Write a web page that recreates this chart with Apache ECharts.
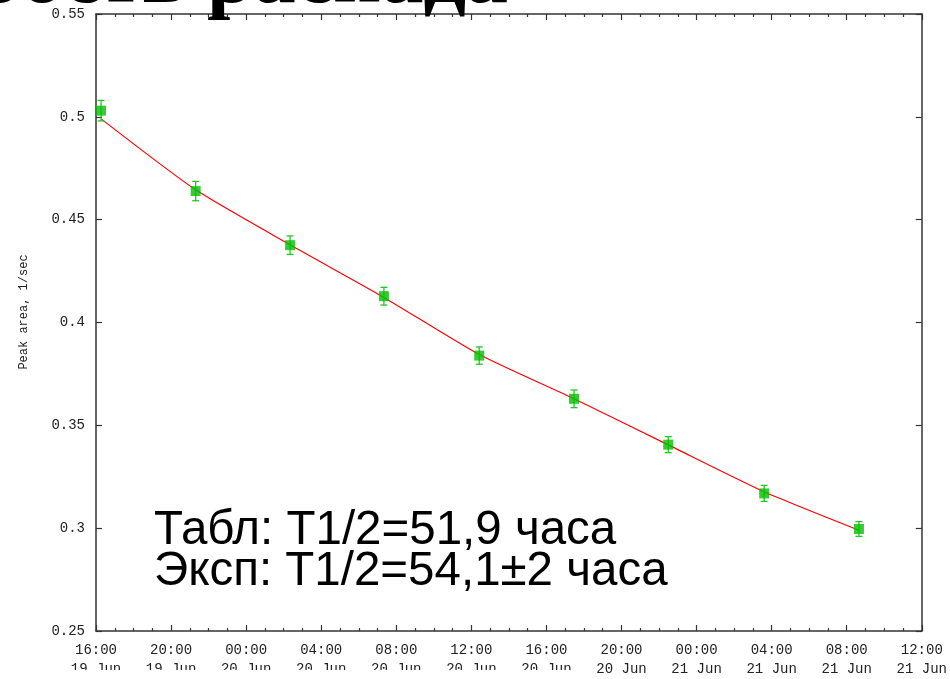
<!DOCTYPE html>
<html>
<head>
<meta charset="utf-8">
<script src="https://cdn.jsdelivr.net/npm/echarts@6/dist/echarts.min.js"></script>
<style>
html,body{margin:0;padding:0;background:#fff;}
#c{width:950px;height:679px;}
</style>
</head>
<body>
<div id="c"></div>
<script>
// hours since 16:00 19 Jun
const hours = [0.27, 5.31, 10.34, 15.34, 20.42, 25.47, 30.49, 35.6, 40.65];
const peakArea = [0.503, 0.4639, 0.4376, 0.4128, 0.3839, 0.3629, 0.3406, 0.3169, 0.2996];
const peakErr = [0.005, 0.0047, 0.0045, 0.0043, 0.0042, 0.0043, 0.0039, 0.0039, 0.0036];
const fitHours = [0.27, 5.31, 10.34, 15.34, 20.42, 25.47, 30.49, 35.6, 40.65];
const fitValues = [0.4990, 0.4645, 0.4378, 0.4122, 0.3844, 0.3629, 0.3405, 0.3177, 0.2990];
const xTickLabels = ['16:00\n19 Jun', '20:00\n19 Jun', '00:00\n20 Jun', '04:00\n20 Jun', '08:00\n20 Jun', '12:00\n20 Jun',
  '16:00\n20 Jun', '20:00\n20 Jun', '00:00\n21 Jun', '04:00\n21 Jun', '08:00\n21 Jun', '12:00\n21 Jun'];
const yAxisTitle = 'Peak area, 1/sec';
const titleText = 'Скорость распада';
const noteLine1 = 'Табл: T1/2=51,9 часа';
const noteLine2 = 'Эксп: T1/2=54,1±2 часа';

const mono = '"Liberation Mono", "DejaVu Sans Mono", monospace';
const axisColor = '#333';
const green = '#00c000';

const chart = echarts.init(document.getElementById('c'), null, {renderer: 'canvas'});

const points = hours.map((h, i) => [h, peakArea[i]]);
const errData = hours.map((h, i) => [h, peakArea[i] - peakErr[i], peakArea[i] + peakErr[i]]);
const fitData = fitHours.map((h, i) => [h, fitValues[i]]);

const baseX = {
  type: 'value', min: 0, max: 44, interval: 4,
  axisLine: {show: true, onZero: false, lineStyle: {color: axisColor, width: 1.5}},
  axisTick: {show: true, inside: true, length: 6, lineStyle: {color: axisColor, width: 1.2}},
  minorTick: {show: true, splitNumber: 4, length: 3, lineStyle: {color: axisColor, width: 1.2}},
  splitLine: {show: false}
};
const baseY = {
  type: 'value', min: 0.25, max: 0.55, interval: 0.05,
  axisLine: {show: true, onZero: false, lineStyle: {color: axisColor, width: 1.5}},
  axisTick: {show: true, inside: true, length: 6, lineStyle: {color: axisColor, width: 1.2}},
  splitLine: {show: false}
};

const option = {
  backgroundColor: '#fff',
  animation: false,
  grid: {left: 96, right: 28, top: 14, bottom: 46, containLabel: false},
  xAxis: [
    Object.assign({}, baseX, {
      position: 'bottom',
      axisLabel: {
        show: true, margin: 10, color: '#222', fontFamily: mono, fontSize: 14, lineHeight: 19,
        formatter: v => xTickLabels[Math.round(v / 4)] || ''
      }
    }),
    Object.assign({}, baseX, {position: 'top', axisLabel: {show: false}})
  ],
  yAxis: [
    Object.assign({}, baseY, {
      position: 'left',
      axisLabel: {show: true, margin: 11, color: '#222', fontFamily: mono, fontSize: 14,
        formatter: v => String(Math.round(v * 100) / 100)}
    }),
    Object.assign({}, baseY, {position: 'right', axisLabel: {show: false}})
  ],
  series: [
    {
      type: 'line', data: fitData, showSymbol: false, symbol: 'none', smooth: 0.2,
      lineStyle: {color: '#ff0000', width: 1.2}, z: 2, silent: true
    },
    {
      type: 'custom', data: errData, z: 3, silent: true,
      renderItem: (params, api) => {
        const x = api.value(0);
        const lo = api.coord([x, api.value(1)]);
        const hi = api.coord([x, api.value(2)]);
        const cap = 3.5;
        const style = {stroke: '#22c822', lineWidth: 1.3};
        return {
          type: 'group',
          children: [
            {type: 'line', shape: {x1: lo[0], y1: lo[1], x2: hi[0], y2: hi[1]}, style: style},
            {type: 'line', shape: {x1: lo[0] - cap, y1: lo[1], x2: lo[0] + cap, y2: lo[1]}, style: style},
            {type: 'line', shape: {x1: hi[0] - cap, y1: hi[1], x2: hi[0] + cap, y2: hi[1]}, style: style}
          ]
        };
      }
    },
    {
      type: 'scatter', data: points, symbol: 'rect', symbolSize: 10, z: 4, silent: true,
      itemStyle: {color: green}
    }
  ],
  graphic: [
    {
      type: 'text', x: 508, y: 22, z: 100,
      style: {text: titleText, font: 'bold 84px "Liberation Serif", "DejaVu Serif", serif',
        fill: '#000', textAlign: 'right', textVerticalAlign: 'bottom'}
    },
    {
      type: 'text', x: 24, y: 312, rotation: Math.PI / 2, z: 100,
      style: {text: yAxisTitle, font: '12px ' + mono, fill: '#222',
        textAlign: 'center', textVerticalAlign: 'middle'}
    },
    {
      type: 'text', x: 154, y: 555, z: 100,
      style: {text: noteLine1, font: '47.5px "Liberation Sans", Arial, sans-serif', fill: '#000',
        textAlign: 'left', textVerticalAlign: 'bottom'}
    },
    {
      type: 'text', x: 154, y: 596, z: 100,
      style: {text: noteLine2, font: '47.5px "Liberation Sans", Arial, sans-serif', fill: '#000',
        textAlign: 'left', textVerticalAlign: 'bottom'}
    },
    {
      type: 'rect', shape: {x: 0, y: 670, width: 582, height: 9}, z: 100,
      style: {fill: '#fff'}
    }
  ]
};
chart.setOption(option);
</script>
</body>
</html>
